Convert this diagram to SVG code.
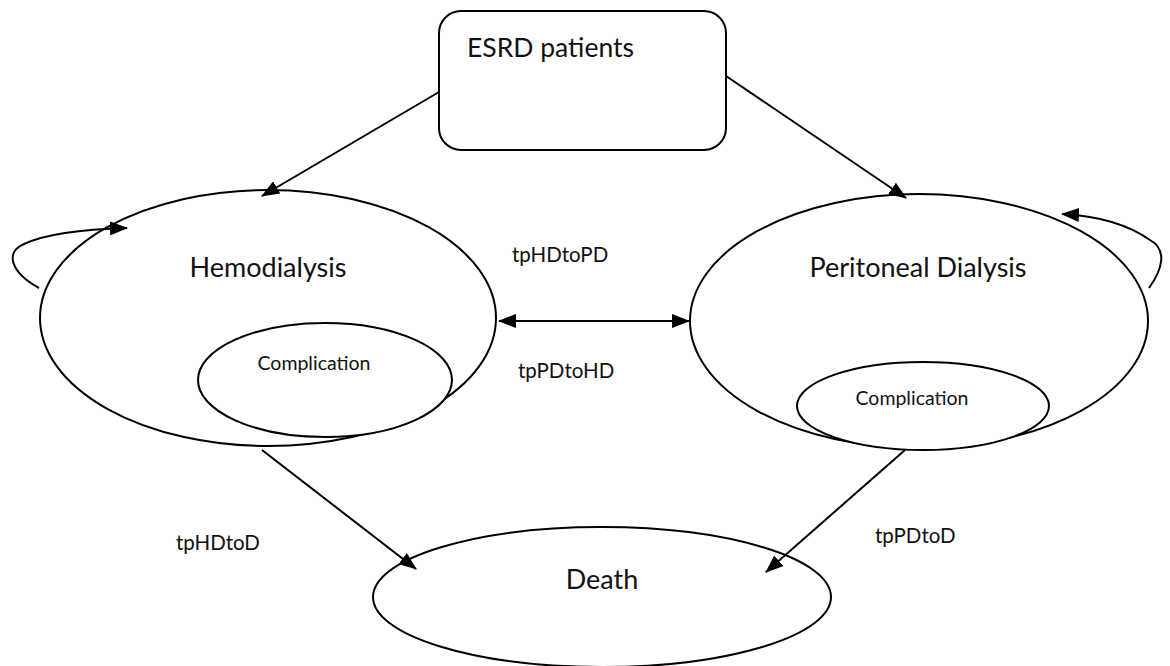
<svg xmlns="http://www.w3.org/2000/svg" width="1170" height="666" viewBox="0 0 1170 666">
<style>
.shape{fill:#fff;stroke:#000;stroke-width:2}
.inner{fill:#fff;stroke:#000;stroke-width:2}
.edge{fill:none;stroke:#000;stroke-width:2}
text{font-family:Lato,"Liberation Sans",sans-serif;fill:#111}
.big{font-size:27px}
.mid{font-size:20.5px}
.small{font-size:19.5px}
</style>
<defs>
<marker id="ah" markerUnits="userSpaceOnUse" markerWidth="18" markerHeight="14" refX="17" refY="7" orient="auto-start-reverse">
<path d="M0,0 L18,7 L0,14 Z" fill="#000"/>
</marker>
</defs>
<rect width="1170" height="666" fill="#fff"/>
<g id="hd">
<ellipse class="shape" cx="268" cy="318" rx="228" ry="128"/>
<text class="big" x="268" y="277" text-anchor="middle">Hemodialysis</text>
</g>
<g id="hd-complication">
<ellipse class="inner" cx="325" cy="380" rx="127" ry="57"/>
<text class="small" x="314" y="370" text-anchor="middle">Complication</text>
</g>
<g id="pd">
<ellipse class="shape" cx="919" cy="321" rx="229" ry="127"/>
<text class="big" x="918" y="277" text-anchor="middle">Peritoneal Dialysis</text>
</g>
<g id="pd-complication">
<ellipse class="inner" cx="923" cy="406" rx="126" ry="44"/>
<text class="small" x="912" y="405" text-anchor="middle">Complication</text>
</g>
<g id="esrd">
<rect class="shape" x="439" y="11" width="287" height="139" rx="22"/>
<text class="big" x="467" y="57" style="font-size:26.5px">ESRD patients</text>
</g>
<g id="death">
<ellipse class="shape" cx="602" cy="597" rx="229" ry="70"/>
<text class="big" x="602" y="589" text-anchor="middle">Death</text>
</g>
<g id="connectors">
<line class="edge" x1="439" y1="92" x2="262" y2="196" marker-end="url(#ah)"/>
<line class="edge" x1="726" y1="76" x2="906" y2="198" marker-end="url(#ah)"/>
<line class="edge" x1="499" y1="321" x2="689" y2="321" marker-start="url(#ah)" marker-end="url(#ah)"/>
<line class="edge" x1="262" y1="450" x2="416" y2="569" marker-end="url(#ah)"/>
<line class="edge" x1="905" y1="450" x2="766" y2="572" marker-end="url(#ah)"/>
<path class="edge" d="M39,288 C10,272 5,252 24,244 C50,232 90,229 127,228" marker-end="url(#ah)"/>
<path class="edge" d="M1149,288 C1162,270 1168,250 1150,240 C1130,226 1100,216 1062,214" marker-end="url(#ah)"/>
</g>
<g id="labels">
<text class="mid" x="512" y="262">tpHDtoPD</text>
<text class="mid" x="518" y="378">tpPDtoHD</text>
<text class="mid" x="176" y="550">tpHDtoD</text>
<text class="mid" x="875" y="543">tpPDtoD</text>
</g>
</svg>
